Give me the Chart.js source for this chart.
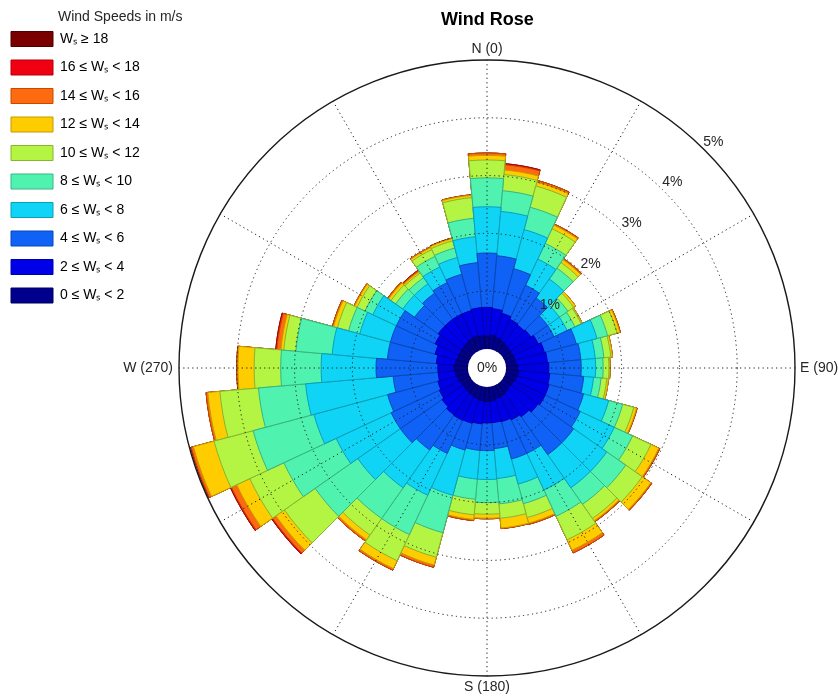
<!DOCTYPE html>
<html>
<head>
  <title>Wind Rose</title>
  <script src="https://cdn.jsdelivr.net/npm/chart.js"></script>
  <style>
    body { margin: 0; background: #fff; }
    .chart-container { width: 839px; height: 700px; }
  </style>
</head>
<body>
  <div class="chart-container"><canvas id="rose"></canvas></div>

  <script>
    // direction bins, 10 degrees wide, clockwise from north
    const directions = ['0', '10', '20', '30', '40', '50', '60', '70', '80', '90', '100', '110',
      '120', '130', '140', '150', '160', '170', '180', '190', '200', '210', '220', '230',
      '240', '250', '260', '270', '280', '290', '300', '310', '320', '330', '340', '350'];

    // cumulative frequency (%) up to each speed limit, one value per direction
    const upTo2 = [0.22, 0.24, 0.22, 0.20, 0.18, 0.17, 0.16, 0.17, 0.18, 0.20, 0.22, 0.20,
      0.18, 0.17, 0.19, 0.21, 0.22, 0.24, 0.25, 0.24, 0.22, 0.20, 0.19, 0.18,
      0.18, 0.20, 0.22, 0.24, 0.22, 0.20, 0.20, 0.21, 0.22, 0.24, 0.25, 0.23];
    const upTo4 = [0.72, 0.70, 0.65, 0.60, 0.58, 0.60, 0.65, 0.70, 0.72, 0.74, 0.76, 0.78,
      0.78, 0.75, 0.70, 0.66, 0.63, 0.62, 0.62, 0.64, 0.66, 0.67, 0.66, 0.62,
      0.58, 0.55, 0.52, 0.52, 0.55, 0.60, 0.66, 0.70, 0.70, 0.70, 0.70, 0.72];
    const upTo6 = [1.66, 1.62, 1.45, 1.25, 1.15, 0.95, 0.95, 1.27, 1.30, 1.30, 1.35, 1.40,
      1.45, 1.50, 1.50, 1.30, 1.30, 1.07, 1.10, 1.10, 1.14, 1.30, 1.40, 1.50,
      1.50, 1.45, 1.30, 1.59, 1.40, 1.40, 1.40, 1.20, 1.25, 1.30, 1.35, 1.50];
    const upTo8 = [2.46, 2.39, 2.15, 1.75, 1.55, 1.20, 1.20, 1.64, 1.55, 1.55, 1.52, 1.85,
      2.10, 2.20, 2.20, 2.00, 1.75, 1.59, 1.60, 1.60, 1.95, 2.10, 2.20, 2.40,
      2.55, 2.77, 2.82, 2.54, 2.36, 1.95, 1.85, 1.45, 1.45, 1.60, 1.65, 1.95];
    const upTo10 = [2.96, 2.75, 2.55, 2.05, 1.78, 1.38, 1.35, 1.83, 1.70, 1.68, 1.65, 2.10,
      2.45, 2.60, 2.55, 2.50, 2.10, 2.03, 2.00, 1.95, 2.62, 2.85, 2.85, 3.30,
      3.55, 3.86, 3.64, 3.24, 2.99, 2.15, 2.00, 1.60, 1.58, 1.80, 1.82, 2.27];
    const upTo12 = [3.27, 3.03, 2.93, 2.33, 1.90, 1.50, 1.47, 2.00, 1.82, 1.78, 1.75, 2.30,
      2.80, 2.95, 2.85, 2.95, 2.35, 2.28, 2.20, 2.22, 3.06, 3.35, 3.20, 3.95,
      4.20, 4.56, 4.31, 3.70, 3.20, 2.35, 2.15, 1.70, 1.68, 1.93, 1.95, 2.63];
    const upTo14 = [3.35, 3.11, 3.00, 2.40, 1.96, 1.54, 1.49, 2.05, 1.85, 1.80, 1.78, 2.35,
      2.95, 3.13, 2.90, 3.15, 2.45, 2.45, 2.27, 2.30, 3.20, 3.50, 3.30, 4.13,
      4.45, 4.93, 4.52, 3.98, 3.25, 2.42, 2.20, 1.75, 1.71, 1.97, 1.99, 2.67];
    const upTo16 = [3.39, 3.20, 3.03, 2.42, 1.98, 1.54, 1.49, 2.06, 1.85, 1.80, 1.78, 2.36,
      2.97, 3.15, 2.92, 3.20, 2.47, 2.46, 2.28, 2.32, 3.24, 3.53, 3.33, 4.20,
      4.55, 4.97, 4.55, 4.00, 3.32, 2.44, 2.21, 1.77, 1.73, 1.98, 2.00, 2.68];
    const upTo18 = [3.39, 3.22, 3.03, 2.42, 1.98, 1.54, 1.49, 2.06, 1.85, 1.80, 1.78, 2.36,
      2.97, 3.15, 2.92, 3.20, 2.47, 2.46, 2.28, 2.32, 3.24, 3.53, 3.33, 4.22,
      4.57, 4.98, 4.55, 4.00, 3.34, 2.44, 2.21, 1.77, 1.74, 1.98, 2.00, 2.68];
    const allSpeeds = upTo18.slice();

    const speedLabels = ['0 \u2264 W\u209B < 2', '2 \u2264 W\u209B < 4', '4 \u2264 W\u209B < 6',
      '6 \u2264 W\u209B < 8', '8 \u2264 W\u209B < 10', '10 \u2264 W\u209B < 12', '12 \u2264 W\u209B < 14',
      '14 \u2264 W\u209B < 16', '16 \u2264 W\u209B < 18', 'W\u209B \u2265 18'];
    const fillColors = ['#00008c', '#0000e8', '#0f62f5', '#10d4f5', '#50f2b0', '#b4f443',
      '#ffcc00', '#ff6a10', '#f00010', '#7a0000'];
    const edgeColors = ['#000060', '#0000a8', '#0a47b8', '#0a9fb8', '#38b483', '#86b530',
      '#c29b00', '#c24c00', '#b0000c', '#500000'];

    const percentTicks = [1, 2, 3, 4, 5];
    const spokeAngles = [0, 30, 60, 90, 120, 150, 180, 210, 240, 270, 300, 330];
    const compassLabels = ['N (0)', 'E (90)', 'S (180)', 'W (270)'];
    const holeSize = 0.33;

    Chart.defaults.font.family = '"Liberation Sans", Arial, sans-serif';
    Chart.defaults.color = '#262626';

    const cumulative = [upTo2, upTo4, upTo6, upTo8, upTo10, upTo12, upTo14, upTo16, upTo18, allSpeeds];

    const roseDecor = {
      id: 'roseDecor',
      afterDatasetsDraw(chart) {
        const r = chart.scales.r;
        const ctx = chart.ctx;
        const cx = r.xCenter, cy = r.yCenter;
        const r0 = r.getDistanceFromCenterForValue(0);
        const rMax = r.getDistanceFromCenterForValue(5);
        ctx.save();
        ctx.beginPath();
        ctx.arc(cx, cy, r0, 0, 2 * Math.PI);
        ctx.fillStyle = '#fff';
        ctx.fill();
        ctx.strokeStyle = '#1a1a1a';
        ctx.lineWidth = 1;
        ctx.setLineDash([1.2, 3.3]);
        spokeAngles.forEach(a => {
          const t = (a - 90) * Math.PI / 180;
          ctx.beginPath();
          ctx.moveTo(cx + r0 * Math.cos(t), cy + r0 * Math.sin(t));
          ctx.lineTo(cx + rMax * Math.cos(t), cy + rMax * Math.sin(t));
          ctx.stroke();
        });
        ctx.restore();
      },
      afterDraw(chart) {
        const r = chart.scales.r;
        const ctx = chart.ctx;
        const cx = r.xCenter, cy = r.yCenter;
        const rMax = r.getDistanceFromCenterForValue(5);
        ctx.save();
        ctx.fillStyle = '#262626';
        ctx.font = '14px "Liberation Sans", Arial, sans-serif';
        ctx.textBaseline = 'middle';
        ctx.textAlign = 'center';
        ctx.fillText('0%', cx, cy);
        percentTicks.forEach(v => {
          const d = r.getDistanceFromCenterForValue(v) + 12;
          ctx.fillText(v + '%', cx + d * Math.SQRT1_2, cy - d * Math.SQRT1_2);
        });
        ctx.fillText(compassLabels[0], cx, cy - rMax - 11);
        ctx.fillText(compassLabels[2], cx, cy + rMax + 11);
        ctx.textAlign = 'left';
        ctx.fillText(compassLabels[1], cx + rMax + 5, cy);
        ctx.textAlign = 'right';
        ctx.fillText(compassLabels[3], cx - rMax - 6, cy);
        // legend heading
        ctx.textAlign = 'left';
        ctx.font = '14px "Liberation Sans", Arial, sans-serif';
        ctx.fillText('Wind Speeds in m/s', 58, 17);
        ctx.restore();
      }
    };

    new Chart(document.getElementById('rose'), {
      type: 'polarArea',
      data: {
        labels: directions,
        datasets: cumulative.map((vals, i) => ({
          label: speedLabels[i],
          data: vals,
          backgroundColor: fillColors[i],
          borderColor: edgeColors[i],
          borderWidth: 1
        }))
      },
      options: {
        responsive: true,
        maintainAspectRatio: false,
        animation: false,
        events: [],
        layout: { padding: { top: 18, left: -2.5, right: 14, bottom: 24 } },
        scales: {
          r: {
            min: -holeSize,
            max: 5,
            startAngle: -5,
            ticks: { display: false, stepSize: 1 },
            angleLines: { display: false },
            pointLabels: { display: false },
            grid: {
              z: 1,
              circular: true,
              color: c => c.tick.value >= 5 ? '#1a1a1a' : (c.tick.value > 0 ? '#1a1a1a' : 'rgba(0,0,0,0)'),
              lineWidth: c => c.tick.value >= 5 ? 1.4 : 1
            },
            border: { dash: c => c.tick.value >= 5 ? [] : [1.2, 3.3] }
          }
        },
        plugins: {
          title: {
            display: true,
            text: 'Wind Rose',
            color: '#000',
            fullSize: false,
            font: { size: 18, weight: 'bold' },
            padding: { top: -9, bottom: 29.4 }
          },
          legend: {
            position: 'left',
            align: 'start',
            reverse: true,
            onClick: null,
            labels: {
              boxWidth: 42,
              boxHeight: 15,
              padding: 13.5,
              color: '#262626',
              font: { size: 14 },
              generateLabels: chart => chart.data.datasets.map((ds, i) => ({
                text: ds.label,
                fillStyle: ds.backgroundColor,
                strokeStyle: ds.borderColor,
                lineWidth: 1,
                hidden: false,
                datasetIndex: i
              }))
            }
          },
          tooltip: { enabled: false }
        }
      },
      plugins: [roseDecor]
    });
  </script>
</body>
</html>
